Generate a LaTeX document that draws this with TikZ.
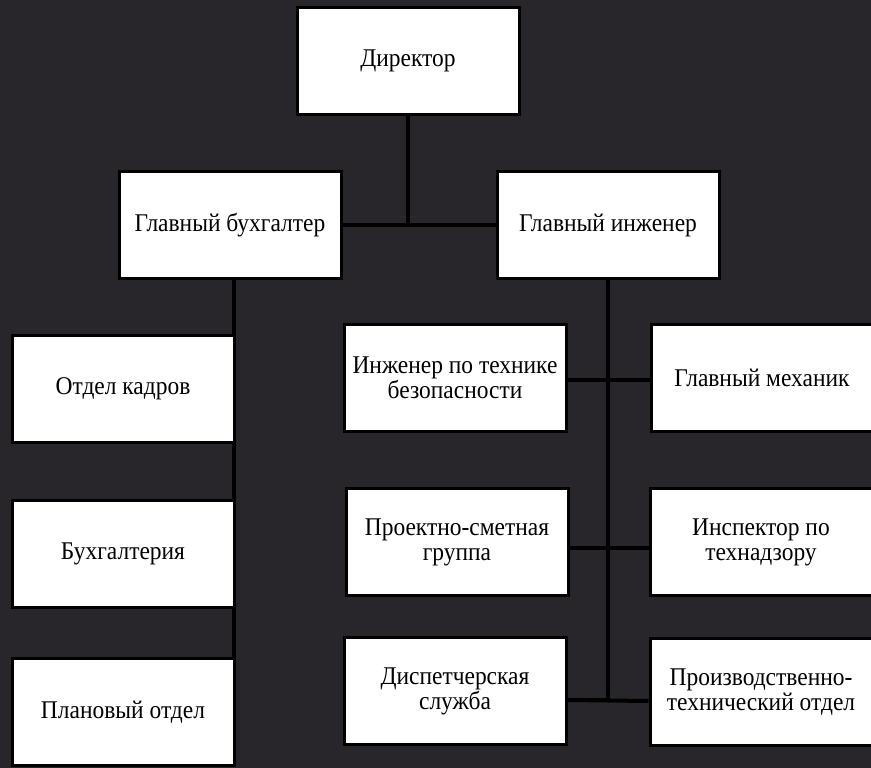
\documentclass[tikz,border=0pt]{standalone}
\usepackage{fontspec}
\setmainfont{Liberation Serif}
\newfontfamily\boxfont[FakeStretch=0.92]{Liberation Serif}
\usetikzlibrary{positioning}
\definecolor{bgdark}{HTML}{28262B}
\tikzset{
    box/.style={draw=black,fill=white,line width=3pt,minimum width=222pt,minimum height=107pt,align=center,inner sep=2pt},
    link/.style={draw=black,line width=4pt},
}
\tikzstyle{every node}=[font=\boxfont\fontsize{25.5}{25}\selectfont]

\begin{document}
\begin{tikzpicture}[x=1pt,y=-1pt]
    \fill[bgdark] (0,0) rectangle (871,768);
    \useasboundingbox (0,0) rectangle (871,768);

    \node[box] (dir) at (408,61) {Директор};
    \node[box] (glbuh) at (230,225) {Главный бухгалтер};
    \node[box] (gling) at (608,225) {Главный инженер};

    \node[box] (okadr) at (123,389) {Отдел кадров};
    \node[box] (buh) at (123,554) {Бухгалтерия};
    \node[box] (plan) at (123,712) {Плановый отдел};

    \node[box] (ingtb) at (455,378) {Инженер по технике\\безопасности};
    \node[box] (mech) at (762,378) {Главный механик};
    \node[box] (proekt) at (457,542) {Проектно-сметная\\группа};
    \node[box] (insp) at (761,542) {Инспектор по\\технадзору};
    \node[box] (disp) at (455,691) {Диспетчерская\\служба};
    \node[box] (proizv) at (761,692) {Производственно-\\технический отдел};

    \draw[link] (dir) -- (dir |- glbuh);
    \draw[link] (glbuh) -- (gling);

    % left column
    \draw[link] ([xshift=-2pt]okadr.north east |- glbuh.south) -- ([xshift=-2pt]okadr.north east);
    \draw[link] ([xshift=-2pt]okadr.south east) -- ([xshift=-2pt]buh.north east);
    \draw[link] ([xshift=-2pt]buh.south east) -- ([xshift=-2pt]plan.north east);

    % right column
    \draw[link] (gling.south) |- ([yshift=-9pt]disp.east);
    \draw[link] ([yshift=-2pt]ingtb.east) -- ([yshift=-2pt]mech.west);
    \draw[link] ([yshift=-6pt]proekt.east) -- ([yshift=-6pt]insp.west);
    \draw[link] ([yshift=-9pt]disp.east) -- ([yshift=-9pt]proizv.west);
\end{tikzpicture}
\end{document}
